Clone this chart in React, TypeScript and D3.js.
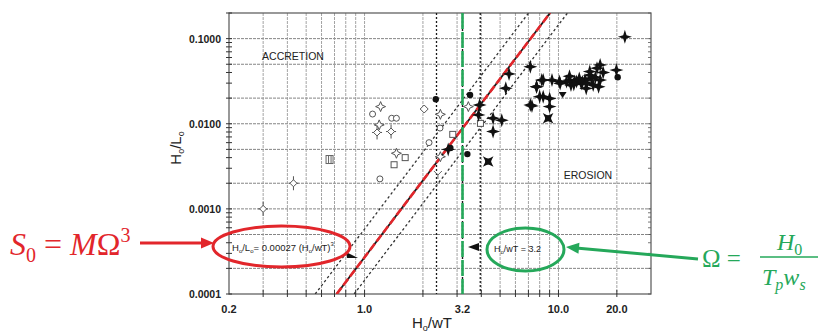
import * as d3 from "d3";

// axis ranges (log-log), tick labels and grid positions
const xDomain: [number, number] = [0.2, 30];
const yDomain: [number, number] = [0.0001, 0.2];
const xTickLabels = [0.2, 1.0, 3.2, 10.0, 20.0];
const yTickLabels = [0.1, 0.01, 0.001, 0.0001];
const xGrid = [0.3, 0.4, 0.5, 0.6, 0.7, 0.8, 0.9, 1, 2, 3, 4, 5, 6, 7, 8, 9, 10, 20];
const yGrid = [0.0002, 0.0005, 0.001, 0.002, 0.005, 0.01, 0.02, 0.05, 0.1];

// S0 = M * Omega^3 fit and the two dotted bands
const mFit = 0.00027;
const mBands = [0.00058, 0.000145];
const omegaCrit = 3.2;
const omegaDotted = [2.35, 3.95];

// observations [H0/wT, H0/L0] by marker
const openCircle: [number, number][] = [[1.1, 0.013], [1.38, 0.0116], [1.46, 0.0116], [1.2, 0.00225], [2.45, 0.0089], [2.15, 0.006]];
const openSquare: [number, number][] = [[1.42, 0.0033], [1.62, 0.004], [2.85, 0.0075], [3.96, 0.0101]];
const openStar: [number, number][] = [[1.21, 0.0159], [1.19, 0.0097], [2.46, 0.0129], [3.43, 0.0159], [2.46, 0.0041], [1.46, 0.0045]];
const crossDiamond: [number, number][] = [[0.3, 0.001], [0.43, 0.002], [1.37, 0.0081], [1.16, 0.0079]];
const openDiamond: [number, number][] = [[2.03, 0.0149]];
const barsMark: [number, number][] = [[0.66, 0.0038]];
const openTri: [number, number][] = [[2.39, 0.0025]];
const filledCircle: [number, number][] = [[2.33, 0.0194], [3.5, 0.0218], [3.39, 0.0044], [2.77, 0.0052], [20.2, 0.0352]];
const filledTri: [number, number][] = [[10.5, 0.0218]];
const boxX: [number, number][] = [[4.34, 0.0036], [8.84, 0.0116]];
const filledStar: [number, number][] = [
  [3.92, 0.0166], [3.87, 0.0127], [4.6, 0.0116], [5.1, 0.011], [4.6, 0.0081], [5.56, 0.0385],
  [5.35, 0.0261], [7.16, 0.0467], [7.16, 0.0166], [7.72, 0.0272], [8.34, 0.0326], [9.26, 0.0326],
  [8.0, 0.0208], [9.0, 0.0198], [9.0, 0.0159], [7.3, 0.0162], [11.4, 0.0326], [12.1, 0.0313],
  [13.1, 0.0298], [14.5, 0.041], [14.8, 0.0343], [16.4, 0.0491], [16.4, 0.0326], [16.1, 0.0272],
  [19.9, 0.0427], [22.0, 0.105], [10.1, 0.0313], [11.6, 0.0285], [13.9, 0.026], [11.4, 0.0361],
  [12.4, 0.0313], [13.7, 0.0326], [14.5, 0.0372], [15.1, 0.0285], [11.0, 0.0313], [10.2, 0.0298],
  [8.2, 0.0326], [7.7, 0.0272], [8.34, 0.0208], [12.8, 0.034], [13.3, 0.031], [15.5, 0.035],
  [14.0, 0.03], [12.0, 0.029], [17.0, 0.04], [15.8, 0.045], [2.7, 0.005],
];

const RED = "#e2262b";
const GREEN = "#25a85a";
const FONT = "Liberation Sans, Arial, sans-serif";

function star4(r: number, k = 0.3, rot = 0) {
  const pts: string[] = [];
  for (let i = 0; i < 8; i++) {
    const a = rot + (i * Math.PI) / 4 - Math.PI / 2;
    const rr = i % 2 === 0 ? r : r * k;
    pts.push(`${(rr * Math.cos(a)).toFixed(2)},${(rr * Math.sin(a)).toFixed(2)}`);
  }
  return "M" + pts.join("L") + "Z";
}

export default function App() {
  const W = 822, H = 332;
  const left = 229, right = 651, top = 13, bottom = 294;
  const x = d3.scaleLog().domain(xDomain).range([left, right]);
  const y = d3.scaleLog().domain(yDomain).range([bottom, top]);

  const minorY: number[] = [];
  for (let e = -4; e <= -1; e++) for (let m = 1; m <= 9; m++) { const v = m * 10 ** e; if (v <= 0.2) minorY.push(v); }

  const fitLine = (m: number) => {
    const xa = Math.cbrt(yDomain[0] / m), xb = Math.cbrt(yDomain[1] / m);
    return d3.line<number>().x((v) => x(v)).y((v) => y(m * v ** 3))([xa, xb]) ?? "";
  };

  const pos = (d: [number, number]) => `translate(${x(d[0])},${y(d[1])})`;
  const ink = "#1a1a1a";

  // green pointer from ellipse to formula
  const gTip = [566, 247], gEnd = [698, 259];
  const ang = Math.atan2(gTip[1] - gEnd[1], gTip[0] - gEnd[0]);
  const head = (tx: number, ty: number, a: number, len: number, hw: number) => {
    const bx = tx - len * Math.cos(a), by = ty - len * Math.sin(a);
    const px = -Math.sin(a) * hw, py = Math.cos(a) * hw;
    return `M${tx},${ty}L${bx + px},${by + py}L${bx - px},${by - py}Z`;
  };

  return (
    <svg width={W} height={H} style={{ position: "absolute", left: 0, top: 0, background: "#fff" }} fontFamily={FONT}>
      <defs>
        <clipPath id="plot"><rect x={left} y={top} width={right - left} height={bottom - top} /></clipPath>
      </defs>
      {/* grid */}
      {yGrid.map((v) => (
        <line key={`hy${v}`} x1={left} x2={right} y1={y(v)} y2={y(v)} stroke="#858585" strokeWidth={1} strokeDasharray="3 1" />
      ))}
      {xGrid.map((v) => (
        <line key={`vx${v}`} x1={x(v)} x2={x(v)} y1={top} y2={bottom} stroke="#9a9a9a" strokeWidth={0.9} strokeDasharray="3 1" />
      ))}
      {/* frame */}
      <rect x={left} y={top} width={right - left} height={bottom - top} fill="none" stroke="#555" strokeWidth={1.2} />
      {minorY.map((v) => (
        <line key={`my${v}`} x1={left - 3} x2={left + 3} y1={y(v)} y2={y(v)} stroke="#333" strokeWidth={1} />
      ))}
      {minorY.map((v) => (
        <line key={`mry${v}`} x1={right - 3} x2={right} y1={y(v)} y2={y(v)} stroke="#555" strokeWidth={0.8} />
      ))}
      {xGrid.map((v) => (
        <line key={`tx${v}`} x1={x(v)} x2={x(v)} y1={bottom - 4} y2={bottom + 3} stroke="#333" strokeWidth={1} />
      ))}
      {/* tick labels */}
      {yTickLabels.map((v) => (
        <text key={`yl${v}`} x={left - 8} y={y(v) + 4} textAnchor="end" fontSize={10.5} fontWeight="bold" fill="#222">{v.toFixed(4)}</text>
      ))}
      {xTickLabels.map((v) => (
        <text key={`xl${v}`} x={x(v)} y={bottom + 19} textAnchor="middle" fontSize={11} fontWeight="bold" fill="#222">{v.toFixed(1)}</text>
      ))}
      {/* axis titles */}
      <text x={432} y={328} textAnchor="middle" fontSize={15} fill="#222">H<tspan fontSize={9} dy={3}>o</tspan><tspan dy={-3}>/wT</tspan></text>
      <text transform="translate(181,148) rotate(-90)" textAnchor="middle" fontSize={15} fill="#222">H<tspan fontSize={9} dy={3}>o</tspan><tspan dy={-3}>/L</tspan><tspan fontSize={9} dy={3}>o</tspan></text>
      {/* region labels */}
      <text x={293} y={60} textAnchor="middle" fontSize={10.5} fill="#222">ACCRETION</text>
      <text x={588} y={179} textAnchor="middle" fontSize={10.5} fill="#222">EROSION</text>

      <g clipPath="url(#plot)">
        {omegaDotted.map((v) => (
          <line key={`od${v}`} x1={x(v)} x2={x(v)} y1={top} y2={bottom} stroke={ink} strokeWidth={1.3} strokeDasharray="2 2" />
        ))}
        {mBands.map((m) => (
          <path key={`b${m}`} d={fitLine(m)} fill="none" stroke="#333" strokeWidth={1.3} strokeDasharray="2.5 2.5" />
        ))}
        <path d={fitLine(mFit)} fill="none" stroke={ink} strokeWidth={1.8} />
        <path d={fitLine(mFit)} fill="none" stroke={RED} strokeWidth={2.6} strokeDasharray="8 3" />
        <line x1={x(omegaCrit)} x2={x(omegaCrit)} y1={top} y2={bottom} stroke={ink} strokeWidth={1.4} strokeDasharray="2 2" />
        <line x1={x(omegaCrit)} x2={x(omegaCrit)} y1={top} y2={bottom} stroke={GREEN} strokeWidth={2.6} strokeDasharray="16 3" />

        {/* markers */}
        {openCircle.map((d, i) => <circle key={`oc${i}`} transform={pos(d)} r={3} fill="#fff" stroke="#555" strokeWidth={1} />)}
        {openSquare.map((d, i) => <rect key={`os${i}`} transform={pos(d)} x={-3} y={-3} width={6} height={6} fill="#fff" stroke="#555" strokeWidth={1} />)}
        {openDiamond.map((d, i) => <path key={`od${i}`} transform={pos(d)} d="M0,-4L4,0L0,4L-4,0Z" fill="#fff" stroke="#555" strokeWidth={1} />)}
        {openStar.map((d, i) => <path key={`ost${i}`} transform={pos(d)} d={star4(5, 0.42)} fill="#fff" stroke="#555" strokeWidth={1} />)}
        {crossDiamond.map((d, i) => (
          <g key={`cd${i}`} transform={pos(d)} stroke="#555" strokeWidth={1}>
            <line x1={0} x2={0} y1={-7} y2={7} />
            <line x1={-5} x2={5} y1={0} y2={0} />
            <path d="M0,-3.5L3.5,0L0,3.5L-3.5,0Z" fill="#fff" />
          </g>
        ))}
        {barsMark.map((d, i) => (
          <g key={`bm${i}`} transform={pos(d)} stroke="#666" strokeWidth={1} fill="none">
            <rect x={-3.5} y={-4} width={7} height={8} />
            <line x1={-1} x2={-1} y1={-4} y2={4} />
            <line x1={1.5} x2={1.5} y1={-4} y2={4} />
          </g>
        ))}
        {openTri.map((d, i) => <path key={`ot${i}`} transform={pos(d)} d="M-4,-4L0,0L4,-4M0,0L0,4" fill="none" stroke="#666" strokeWidth={1} />)}
        {filledStar.map((d, i) => <path key={`fs${i}`} transform={pos(d)} d={star4(7, 0.34)} fill="#111" />)}
        {filledCircle.map((d, i) => <circle key={`fc${i}`} transform={pos(d)} r={3.2} fill="#111" />)}
        {filledTri.map((d, i) => <path key={`ft${i}`} transform={pos(d)} d="M-4,-3L4,-3L0,3Z" fill="#111" />)}
        {boxX.map((d, i) => (
          <g key={`bx${i}`} transform={pos(d)}>
            <path d={star4(7.5, 0.35, Math.PI / 4)} fill="#111" />
            <rect x={-3} y={-3} width={6} height={6} fill="#111" />
          </g>
        ))}
      </g>

      {/* equation annotation */}
      <text x={232} y={251} fontSize={9.5} fill="#222">H<tspan fontSize={6} dy={2}>o</tspan><tspan dy={-2}>/L</tspan><tspan fontSize={6} dy={2}>o</tspan><tspan dy={-2}>= 0.00027 (H</tspan><tspan fontSize={6} dy={2}>o</tspan><tspan dy={-2}>/wT)</tspan><tspan fontSize={6} dy={-5}>3</tspan></text>
      <path d="M346,252L358,258L347,258Z" fill="#111" />
      <ellipse cx={281.5} cy={246.5} rx={68.5} ry={20.5} fill="none" stroke={RED} strokeWidth={3} />
      <line x1={140} x2={203} y1={243} y2={243} stroke={RED} strokeWidth={3} />
      <path d={head(214, 243, 0, 13, 5.5)} fill={RED} />
      <text x={10} y={255} fontSize={32} fill={RED} fontFamily="Liberation Serif, serif">
        <tspan fontStyle="italic">S</tspan><tspan fontSize={20} dy={7}>0</tspan><tspan dy={-7}> = </tspan><tspan fontStyle="italic">M</tspan>Ω<tspan fontSize={20} dy={-13}>3</tspan>
      </text>

      {/* threshold annotation */}
      <path d="M468,247L479,243L479,251Z" fill="#111" />
      <text x={494} y={252} fontSize={9} fill="#222">H<tspan fontSize={6} dy={2}>o</tspan><tspan dy={-2}>/wT = 3.2</tspan></text>
      <ellipse cx={525.5} cy={249.5} rx={38.5} ry={21.5} fill="none" stroke={GREEN} strokeWidth={3} />
      <line x1={gTip[0] + 10 * Math.cos(ang + Math.PI)} y1={gTip[1] + 10 * Math.sin(ang + Math.PI)} x2={gEnd[0]} y2={gEnd[1]} stroke={GREEN} strokeWidth={3} />
      <path d={head(gTip[0], gTip[1], ang, 13, 5.5)} fill={GREEN} />
      <text x={702} y={267} fontSize={25} fill={GREEN} fontFamily="Liberation Serif, serif">Ω =</text>
      <text x={777} y={250} fontSize={24} fill={GREEN} fontFamily="Liberation Serif, serif"><tspan fontStyle="italic">H</tspan><tspan fontSize={16} dy={5}>0</tspan></text>
      <line x1={760} x2={818} y1={257} y2={257} stroke={GREEN} strokeWidth={1.5} />
      <text x={762} y={285} fontSize={24} fill={GREEN} fontFamily="Liberation Serif, serif" fontStyle="italic">T<tspan fontSize={16} dy={5}>p</tspan><tspan dy={-5}>w</tspan><tspan fontSize={16} dy={5}>s</tspan></text>
    </svg>
  );
}
